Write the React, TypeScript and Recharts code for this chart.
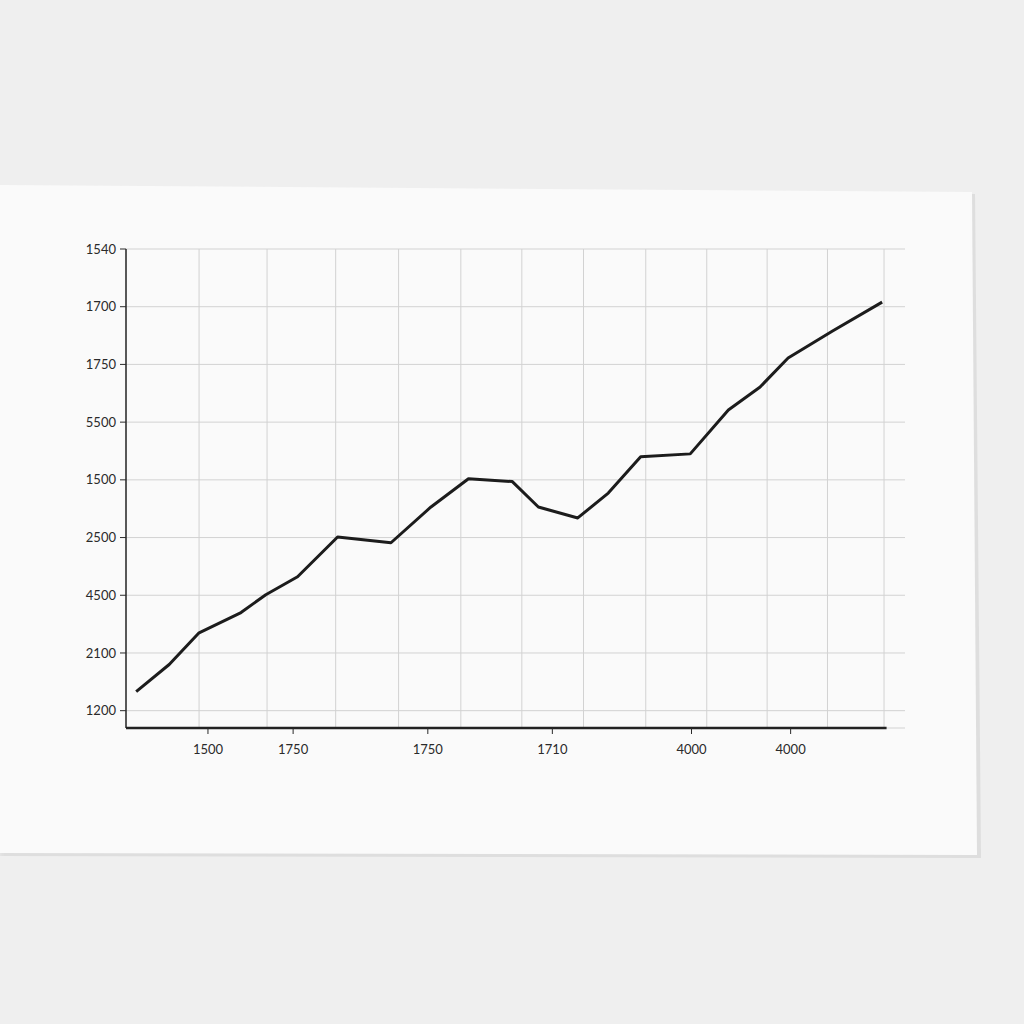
import React from 'react';
import { LineChart, Line, XAxis, YAxis, CartesianGrid, ReferenceLine } from 'recharts';

// y axis: evenly spaced rows, printed labels as on the sheet (bottom to top)
const yLabels = ['1200', '2100', '4500', '2500', '1500', '5500', '1750', '1700', '1540'];
const yTicks = [0, 1, 2, 3, 4, 5, 6, 7, 8];

// x axis: tick positions (in grid units) and their printed labels
const xTickPos = [1.29, 2.63, 4.75, 6.71, 8.9, 10.46];
const xLabels = ['1500', '1750', '1750', '1710', '4000', '4000'];

// vertical grid lines (grid units)
const gridX = [1.15, 2.22, 3.3, 4.29, 5.27, 6.23, 7.2, 8.18, 9.14, 10.09, 11.04, 11.93];

// the line
const xs = [0.16, 0.68, 1.15, 1.81, 2.2, 2.7, 3.33, 4.17, 4.8, 5.39, 6.08, 6.49, 7.11, 7.59, 8.1, 8.88, 9.48, 9.98, 10.42, 11.12, 11.9];
const ys = [0.33, 0.8, 1.35, 1.7, 2.01, 2.32, 3.01, 2.91, 3.53, 4.02, 3.97, 3.53, 3.34, 3.77, 4.4, 4.45, 5.21, 5.61, 6.11, 6.58, 7.08];

const data = xs.map((x, i) => ({ x, y: ys[i] }));

const Y_MIN = -0.3;
const Y_MAX = 8;
const X_MAX = 12.26;
const font = { fontFamily: 'Lato, "Open Sans", sans-serif', fontSize: 13, fill: '#2a2a2a' };

export default function App() {
  return (
    <div style={{ position: 'absolute', left: 0, top: 0, width: 1024, height: 1024, background: '#efefef', overflow: 'hidden' }}>
      {/* paper shadow + sheet */}
      <div
        style={{
          position: 'absolute', left: 0, top: 0, width: 1024, height: 1024, background: '#dedede',
          clipPath: 'polygon(0px 187px, 975px 194px, 981px 858px, 0px 856px)',
          filter: 'blur(2px)',
        }}
      />
      <div
        style={{
          position: 'absolute', left: 0, top: 0, width: 1024, height: 1024, background: '#fafafa',
          clipPath: 'polygon(0px 185px, 972px 192px, 977px 855px, 0px 853px)',
        }}
      />
      <div style={{ position: 'absolute', left: 0, top: 0 }}>
        <LineChart width={1024} height={1024} data={data} margin={{ top: 249, right: 119, bottom: 266, left: 66 }}>
          <CartesianGrid vertical={false} stroke="#d2d2d2" strokeWidth={1} />
          {gridX.map((gx) => (
            <ReferenceLine
              key={gx}
              segment={[{ x: gx, y: Y_MIN }, { x: gx, y: Y_MAX }]}
              stroke="#d2d2d2"
              strokeWidth={1}
            />
          ))}
          <XAxis
            type="number"
            dataKey="x"
            domain={[0, X_MAX]}
            ticks={xTickPos}
            tickFormatter={(v: number) => xLabels[xTickPos.indexOf(v)] ?? ''}
            axisLine={false}
            tickLine={{ stroke: '#2a2a2a' }}
            tickSize={6}
            tickMargin={11}
            tick={font}
            interval={0}
          />
          <YAxis
            type="number"
            domain={[Y_MIN, Y_MAX]}
            ticks={yTicks}
            tickFormatter={(v: number) => yLabels[v] ?? ''}
            axisLine={{ stroke: '#222', strokeWidth: 1.5 }}
            tickLine={{ stroke: '#2a2a2a' }}
            tickSize={6}
            tickMargin={4}
            tick={font}
            interval={0}
          />
          <ReferenceLine
            segment={[{ x: 0, y: Y_MIN }, { x: 11.97, y: Y_MIN }]}
            stroke="#222"
            strokeWidth={2.5}
          />
          <Line
            type="linear"
            dataKey="y"
            stroke="#1c1c1c"
            strokeWidth={3}
            dot={false}
            strokeLinejoin="round"
            isAnimationActive={false}
          />
        </LineChart>
      </div>
    </div>
  );
}
